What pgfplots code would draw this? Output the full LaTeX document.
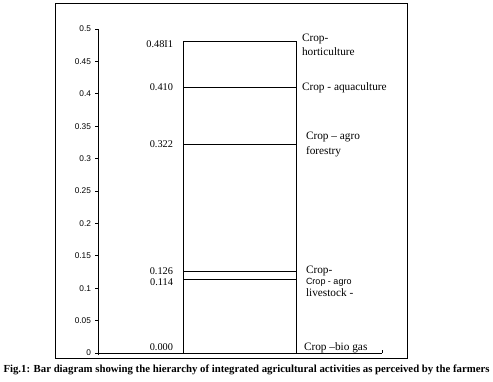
\documentclass[border=0pt]{standalone}
\usepackage{fontspec}
\setmainfont{Liberation Serif}
\newfontfamily\arial{Liberation Sans}
\usepackage{graphicx}
\usepackage{pgfplots}
\pgfplotsset{compat=1.18}
\begin{document}
\begin{tikzpicture}[x=1pt,y=1pt]
\path[use as bounding box] (0,0) rectangle (493,382);
\draw[line width=1pt] (55,23) rectangle (407,378);
\begin{axis}[
  scale only axis, width=284pt, height=324pt,
  at={(98pt,29pt)}, anchor=south west,
  xmin=0, xmax=1, ymin=0, ymax=0.5,
  axis x line=bottom, axis y line=left,
  axis line style={-, line width=0.9pt},
  ytick={0,0.05,0.1,0.15,0.2,0.25,0.3,0.35,0.4,0.45,0.5},
  yticklabels={0,0.05,0.1,0.15,0.2,0.25,0.3,0.35,0.4,0.45,0.5},
  xtick={0}, xticklabels={},
  extra x ticks={1}, extra x tick labels={},
  extra x tick style={tick align=inside},
  tick align=outside,
  tick style={black, line width=0.9pt}, major tick length=2.5pt,
  y tick label style={font=\arial\fontsize{8.3}{9}\selectfont, xshift=-1pt},
  clip=false,
]
\addplot[black, line width=0.9pt] coordinates {(0.3,0) (0.3,0.481) (0.7,0.481) (0.7,0)};
\addplot[black, line width=0.9pt] coordinates {(0.3,0.410) (0.7,0.410)};
\addplot[black, line width=0.9pt] coordinates {(0.3,0.322) (0.7,0.322)};
\addplot[black, line width=0.9pt] coordinates {(0.3,0.126) (0.7,0.126)};
\addplot[black, line width=0.9pt] coordinates {(0.3,0.114) (0.7,0.114)};
\addplot[black, line width=0.9pt] coordinates {(0.3,0) (0.7,0)};

\begin{scope}[every node/.style={font=\fontsize{10.3}{12}\selectfont, anchor=east, inner sep=0pt}]
\node at (axis cs:0.3,0.481) [xshift=-10pt, yshift=-3pt] {0.48I1};
\node at (axis cs:0.3,0.410) [xshift=-10pt] {0.410};
\node at (axis cs:0.3,0.322) [xshift=-10pt] {0.322};
\node at (axis cs:0.3,0.126) [xshift=-10pt] {0.126};
\node at (axis cs:0.3,0.114) [xshift=-10pt, yshift=-3.5pt] {0.114};
\node at (axis cs:0.3,0) [xshift=-10pt, yshift=6pt] {0.000};
\end{scope}

\begin{scope}[every node/.style={font=\fontsize{11.3}{14}\selectfont, anchor=west, inner sep=0pt, align=left}]
\node at (axis cs:0.7,0.481) [xshift=5pt, yshift=-4pt] {Crop-\\horticulture};
\node at (axis cs:0.7,0.410) [xshift=5pt] {Crop - aquaculture};
\node at (axis cs:0.7,0.322) [xshift=9pt, yshift=-0.5pt] {Crop – agro\\[1pt]forestry};
\node at (axis cs:0.7,0.126) [xshift=9pt] {Crop-};
\node at (axis cs:0.7,0.0926) [xshift=9pt] {livestock -};
\node at (axis cs:0.7,0) [xshift=7pt, yshift=5.3pt] {Crop –bio gas};
\end{scope}
\node[font=\arial\fontsize{9}{10}\selectfont, anchor=west, inner sep=0pt] at (axis cs:0.7,0.1096) [xshift=9pt] {Crop - agro};
\end{axis}
\node[inner sep=0pt] at (246.5,12) {\resizebox{486pt}{!}{\bfseries Fig.1: Bar diagram showing the hierarchy of integrated agricultural activities as perceived by the farmers}};
\end{tikzpicture}
\end{document}
